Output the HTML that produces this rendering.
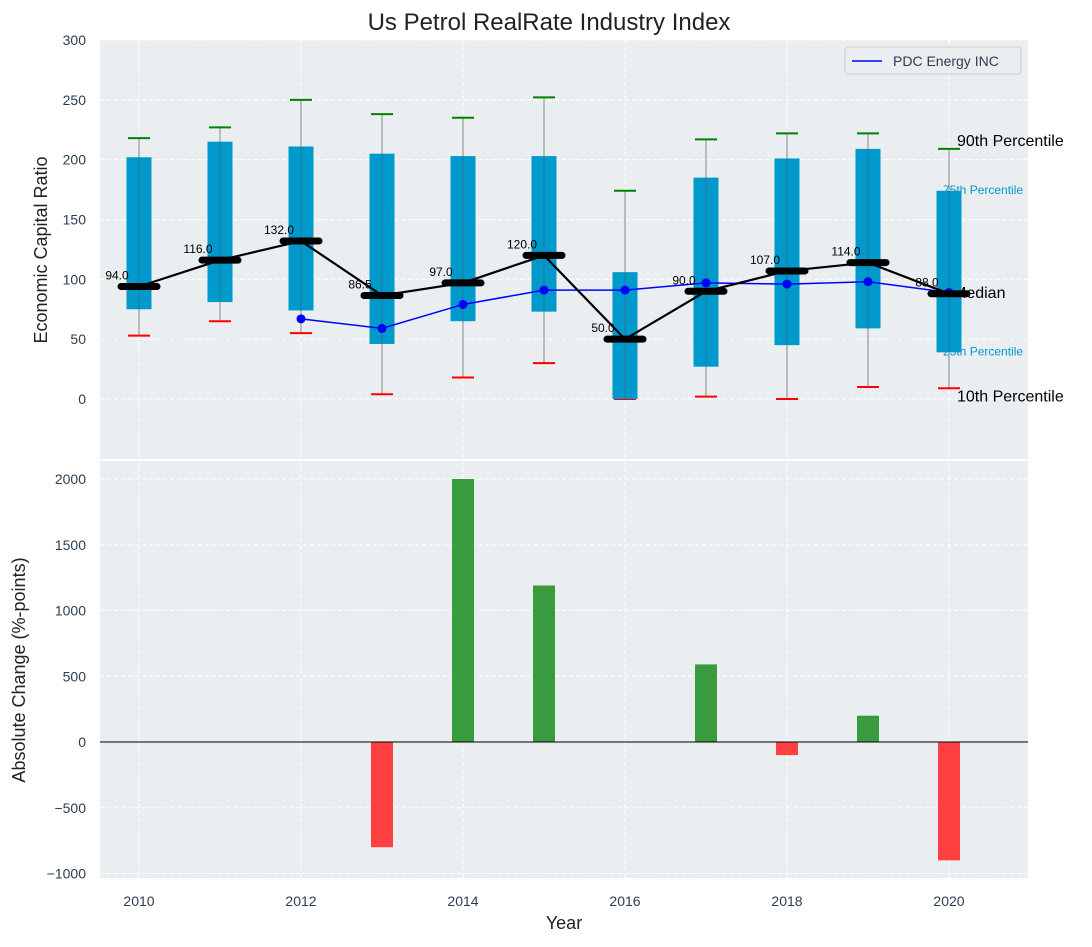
<!DOCTYPE html>
<html><head><meta charset="utf-8"><style>
body{margin:0;background:#fff;font-family:"Liberation Sans","DejaVu Sans",sans-serif}
svg text{font-family:"Liberation Sans","DejaVu Sans",sans-serif}
</style></head><body>
<svg id="c" width="1092" height="942" xmlns="http://www.w3.org/2000/svg"></svg>
<script>
const years=[2010,2011,2012,2013,2014,2015,2016,2017,2018,2019,2020];
const p10=[53,65,55,4,18,30,0,2,0,10,9];
const p25=[75,81,74,46,65,73,0,27,45,59,39];
const p75=[202,215,211,205,203,203,106,185,201,209,174];
const p90=[218,227,250,238,235,252,174,217,222,222,209];
const medians=[94,116,132,86.5,97,120,50,90,107,114,88];
const pdc=[null,null,67,59,79,91,91,97,96,98,89];
const changes=[0,0,0,-800,2000,1190,0,590,-100,200,-900];
const yTicksTop=[0,50,100,150,200,250,300];
const yTicksBot=[-1000,-500,0,500,1000,1500,2000];
const xTicks=[2010,2012,2014,2016,2018,2020];

const svg=document.getElementById('c');
const NS='http://www.w3.org/2000/svg';
function mk(t,a,txt){const e=document.createElementNS(NS,t);for(const k in a)e.setAttribute(k,a[k]);if(txt!==undefined)e.textContent=txt;svg.appendChild(e);return e;}
const L=100,R=1028;
const x=v=>139+(v-2010)*81;
const yT=v=>399-v*1.1967;
const yB=v=>742-v*0.1315;
const T1=40,B1=459,T2=461,B2=878;

let e=mk('rect',{x:L,y:T1,width:R-L,height:B1-T1,fill:'#eaeef0'});


e=mk('rect',{x:L,y:T2,width:R-L,height:B2-T2,fill:'#eaeef0'});



xTicks.forEach(v=>{
 mk('line',{x1:x(v),x2:x(v),y1:T1,y2:B1,stroke:'#fff','stroke-dasharray':'4,3'});
 mk('line',{x1:x(v),x2:x(v),y1:T2,y2:B2,stroke:'#fff','stroke-dasharray':'4,3'});
 e=mk('text',{x:x(v),y:906,'text-anchor':'middle','font-size':14,fill:'#2d3e50'},v);
 
 
});
yTicksTop.forEach(v=>{
 mk('line',{x1:L,x2:R,y1:yT(v),y2:yT(v),stroke:'#fff','stroke-dasharray':'4,3'});
 e=mk('text',{x:L-14,y:yT(v)+5,'text-anchor':'end','font-size':14,fill:'#2d3e50'},v);
 
 
});
yTicksBot.forEach(v=>{
 mk('line',{x1:L,x2:R,y1:yB(v),y2:yB(v),stroke:'#fff','stroke-dasharray':'4,3'});
 e=mk('text',{x:L-14,y:yB(v)+5,'text-anchor':'end','font-size':14,fill:'#2d3e50'},v<0?'\u2212'+(-v):v);
 
 
});

const li=years.length-1, ax=x(years[li]);
[['90th Percentile',p90[li],16,'#000',8],['75th Percentile',p75[li],12,'#0099cc',-6],['Median',medians[li],16,'#000',4],['25th Percentile',p25[li],12,'#0099cc',-6],['10th Percentile',p10[li],16,'#000',8]].forEach((a,i)=>{
 const dy=(i===4)?3:(i===0?-3:0);
 e=mk('text',{x:ax+a[4],y:yT(a[1])+dy,'font-size':a[2],fill:a[3],'dominant-baseline':i===4?'hanging':(i===0?'auto':'middle')},a[0]);
 
 
});

years.forEach((yr,i)=>{
 const cx=x(yr);
 e=mk('line',{x1:cx,x2:cx,y1:yT(p10[i]),y2:yT(p90[i]),stroke:'#888','stroke-width':1});
 
 
 e=mk('line',{x1:cx-11,x2:cx+11,y1:yT(p90[i]),y2:yT(p90[i]),stroke:'green','stroke-width':2});
 
 
 e=mk('line',{x1:cx-11,x2:cx+11,y1:yT(p10[i]),y2:yT(p10[i]),stroke:'red','stroke-width':2});
 
 
 e=mk('rect',{x:cx-12.5,y:yT(p75[i]),width:25,height:yT(p25[i])-yT(p75[i]),fill:'#0099cc'});
 
 
 mk('line',{x1:cx,x2:cx,y1:yT(p25[i]),y2:yT(p75[i]),stroke:'#555','stroke-width':0.8,opacity:0.6});
});

let pts=years.map((yr,i)=>pdc[i]==null?null:[x(yr),yT(pdc[i])]).filter(p=>p);
e=mk('polyline',{points:pts.map(p=>p.join(',')).join(' '),fill:'none',stroke:'blue','stroke-width':1.5});


pts.forEach(p=>{e=mk('circle',{cx:p[0],cy:p[1],r:4.5,fill:'blue'});
 
 });

e=mk('polyline',{points:years.map((yr,i)=>x(yr)+','+yT(medians[i])).join(' '),fill:'none',stroke:'#000','stroke-width':2.2});


years.forEach((yr,i)=>{
 e=mk('line',{x1:x(yr)-18,x2:x(yr)+18,y1:yT(medians[i]),y2:yT(medians[i]),stroke:'#000','stroke-width':7,'stroke-linecap':'round'});
 
 
 e=mk('text',{x:x(yr)-22,y:yT(medians[i])-7,'text-anchor':'middle','font-size':12,fill:'#000'},medians[i].toFixed(1));
 
 
});

e=mk('rect',{x:845,y:47,width:176,height:27,fill:'#eaeef0',stroke:'#ccc',rx:3});


mk('line',{x1:852,x2:882,y1:61,y2:61,stroke:'blue','stroke-width':1.5});
e=mk('text',{x:893,y:66,'font-size':14,fill:'#2d3e50'},'PDC Energy INC');



years.forEach((yr,i)=>{
 const v=changes[i]; if(v===0)return;
 const y0=yB(Math.max(v,0)),h=Math.abs(yB(v)-yB(0));
 e=mk('rect',{x:x(yr)-11,y:y0,width:22,height:h,fill:v>0?'#3a9a3e':'#ff4040'});
 
 
});
mk('line',{x1:L,x2:R,y1:yB(0),y2:yB(0),stroke:'#000','stroke-width':1});

e=mk('text',{x:549,y:30,'text-anchor':'middle','font-size':24,fill:'#222'},'Us Petrol RealRate Industry Index');


e=mk('text',{x:564,y:929,'text-anchor':'middle','font-size':18,fill:'#222'},'Year');


e=mk('text',{x:47,y:250,'text-anchor':'middle','font-size':18,fill:'#222',transform:'rotate(-90 47 250)'},'Economic Capital Ratio');


e=mk('text',{x:25,y:670,'text-anchor':'middle','font-size':18,fill:'#222',transform:'rotate(-90 25 670)'},'Absolute Change (%-points)');


</script>
</body></html>
